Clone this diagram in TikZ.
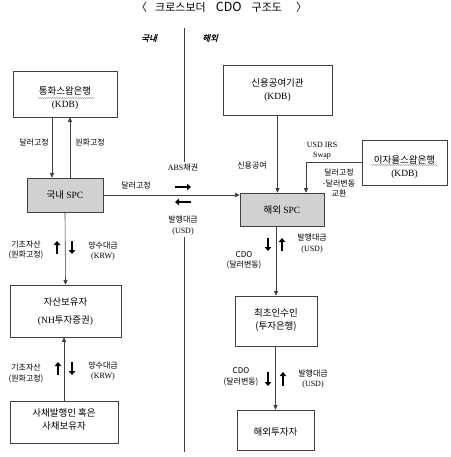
\documentclass[tikz,border=0pt]{standalone}
\usepackage{fontspec}
\setmainfont{Liberation Serif}
\newfontfamily\kr{Noto Sans CJK KR}
\newfontfamily\krslant[FakeSlant=0.25, FakeBold=1.5]{Noto Sans CJK KR}
\usetikzlibrary{arrows.meta,decorations.pathmorphing}

\newcommand\rom[1]{{\rmfamily #1}}

\begin{document}
\begin{tikzpicture}[x=1pt, y=-1pt,
    box/.style={draw=black!75, line width=0.6pt, inner sep=0},
    spcbox/.style={box, fill=black!18},
    boxtext/.style={align=center, inner sep=0, font=\kr\fontsize{9.5}{13}\selectfont},
    lbl/.style={align=center, inner sep=0, font=\kr\fontsize{8}{10.5}\selectfont},
    side/.style={inner sep=0, font=\krslant\fontsize{8.5}{10}\selectfont},
    arr/.style={draw=black!75, line width=0.6pt, -{Triangle[length=4.5pt,width=4pt]}},
    fatarr/.style={line width=2.4pt, -{Triangle[length=4pt,width=6.5pt]}},
    wavy/.style={draw=gray, line width=0.3pt, decorate,
      decoration={snake, amplitude=0.5pt, segment length=2pt}}]
  \useasboundingbox (0,0) rectangle (450,457);

  % title and sides
  \node[anchor=west, inner sep=0, font=\kr\fontsize{11}{12}\selectfont] (title) at (136,7)
    {〈\hspace{8pt}크로스보더\hspace{10pt}{\fontsize{12.5}{12}\selectfont CDO}\hspace{10pt}구조도\hspace{14pt}〉};
  \node[side] (dom) at (149,38) {국내};
  \node[side] (abroad) at (210,38) {해외};
  \draw[black!75, line width=0.6pt] (184,28) -- (184,162) (184,237) -- (184,452);

  % domestic side
  \node[box, minimum width=104, minimum height=46] (swapbank) at (65,94) {};
  \node[boxtext] (swapbank-t) at (65,98.5) {통화스왑은행\\\rom{(KDB)}};
  \node[spcbox, minimum width=76, minimum height=34] (domspc) at (65,195) {};
  \node[boxtext] (domspc-t) at (65,195) {국내 \rom{SPC}};
  \node[box, minimum width=111, minimum height=52] (holder) at (65.5,311) {};
  \node[boxtext] (holder-t) at (65.5,311.5) {자산보유자\\[5pt]\rom{(NH}투자증권\rom{)}};
  \node[box, minimum width=108, minimum height=42] (issuer) at (64,422) {};
  \node[boxtext] (issuer-t) at (64,419) {사채발행인 혹은\\사채보유자};
  \draw[wavy] (38,98) -- (95,98);

  % overseas side
  \node[box, minimum width=109, minimum height=50] (credit) at (277.5,90) {};
  \node[boxtext] (credit-t) at (277.5,90.5) {신용공여기관\\\rom{(KDB)}};
  \node[box, minimum width=85, minimum height=45] (irsbank) at (404.5,162.5) {};
  \node[boxtext] (irsbank-t) at (404.5,167.5) {이자율스왑은행\\\rom{(KDB)}};
  \node[spcbox, minimum width=84, minimum height=33] (frspc) at (282,209.5) {};
  \node[boxtext] (frspc-t) at (282,209.5) {해외 \rom{SPC}};
  \node[box, minimum width=82, minimum height=50] (underwriter) at (276,321) {};
  \node[boxtext] (underwriter-t) at (276,319.5) {최초인수인\\(투자은행)};
  \node[box, minimum width=77, minimum height=40] (investor) at (275.5,430) {};
  \node[boxtext] (investor-t) at (275.5,432) {해외투자자};
  \draw[wavy] (371,165) -- (438,165);

  % connectors
  \draw[arr] ([xshift=-13pt]swapbank.south) -- ([xshift=-13pt]swapbank.south |- domspc.north);
  \draw[arr] ([xshift=5pt]swapbank.south |- domspc.north) -- ([xshift=5pt]swapbank.south);
  \draw[arr] (domspc.east) -- (domspc.east -| frspc.west);
  \draw[arr] (domspc.south) -- (holder.north);
  \draw[arr] (issuer.north) -- (issuer.north |- holder.south);
  \draw[arr] (credit.south) -- (credit.south |- frspc.north);
  \draw[arr, {Triangle[length=4.5pt,width=4pt]}-] ([xshift=24pt]frspc.north) |- (irsbank.west);
  \draw[arr] (underwriter.north |- frspc.south) -- (underwriter.north);
  \draw[arr] (investor.north |- underwriter.south) -- (investor.north);

  % thick arrows
  \draw[fatarr] (175,187) -- (191,187);
  \draw[fatarr] (191,202) -- (175,202);
  \draw[fatarr] (57,254) -- (57,241);
  \draw[fatarr] (72,241) -- (72,254);
  \draw[fatarr] (58,375) -- (58,362);
  \draw[fatarr] (72,362) -- (72,375);
  \draw[fatarr] (268,238) -- (268,251);
  \draw[fatarr] (282,251) -- (282,238);
  \draw[fatarr] (268,372) -- (268,386);
  \draw[fatarr] (283,386) -- (283,372);

  % labels
  \node[lbl] (l1) at (34,143) {달러고정};
  \node[lbl] (l2) at (90,143) {원화고정};
  \node[lbl] (l3) at (136,186) {달러고정};
  \node[lbl] (l4) at (183,168) {\rom{ABS}채권};
  \node[lbl] (l5) at (183,225.5) {발행대금\\\rom{(USD)}};
  \node[lbl] (l6) at (26,250) {기초자산\\(원화고정)};
  \node[lbl] (l7) at (103,251) {양수대금\\\rom{(KRW)}};
  \node[lbl] (l8) at (26,373.5) {기초자산\\(원화고정)};
  \node[lbl] (l9) at (103,371) {양수대금\\\rom{(KRW)}};
  \node[lbl] (l10) at (252,166) {신용공여};
  \node[lbl] (l11) at (322,150.5) {\rom{USD IRS}\\\rom{Swap}};
  \node[lbl] (l12) at (339,183) {달러고정\\-달러변동\\교환};
  \node[lbl] (l13) at (244,260.5) {CDO\\(달러변동)};
  \node[lbl] (l14) at (312,243.5) {발행대금\\\rom{(USD)}};
  \node[lbl] (l15) at (241,377) {CDO\\(달러변동)};
  \node[lbl] (l16) at (313,379) {발행대금\\\rom{(USD)}};
\end{tikzpicture}
\end{document}
